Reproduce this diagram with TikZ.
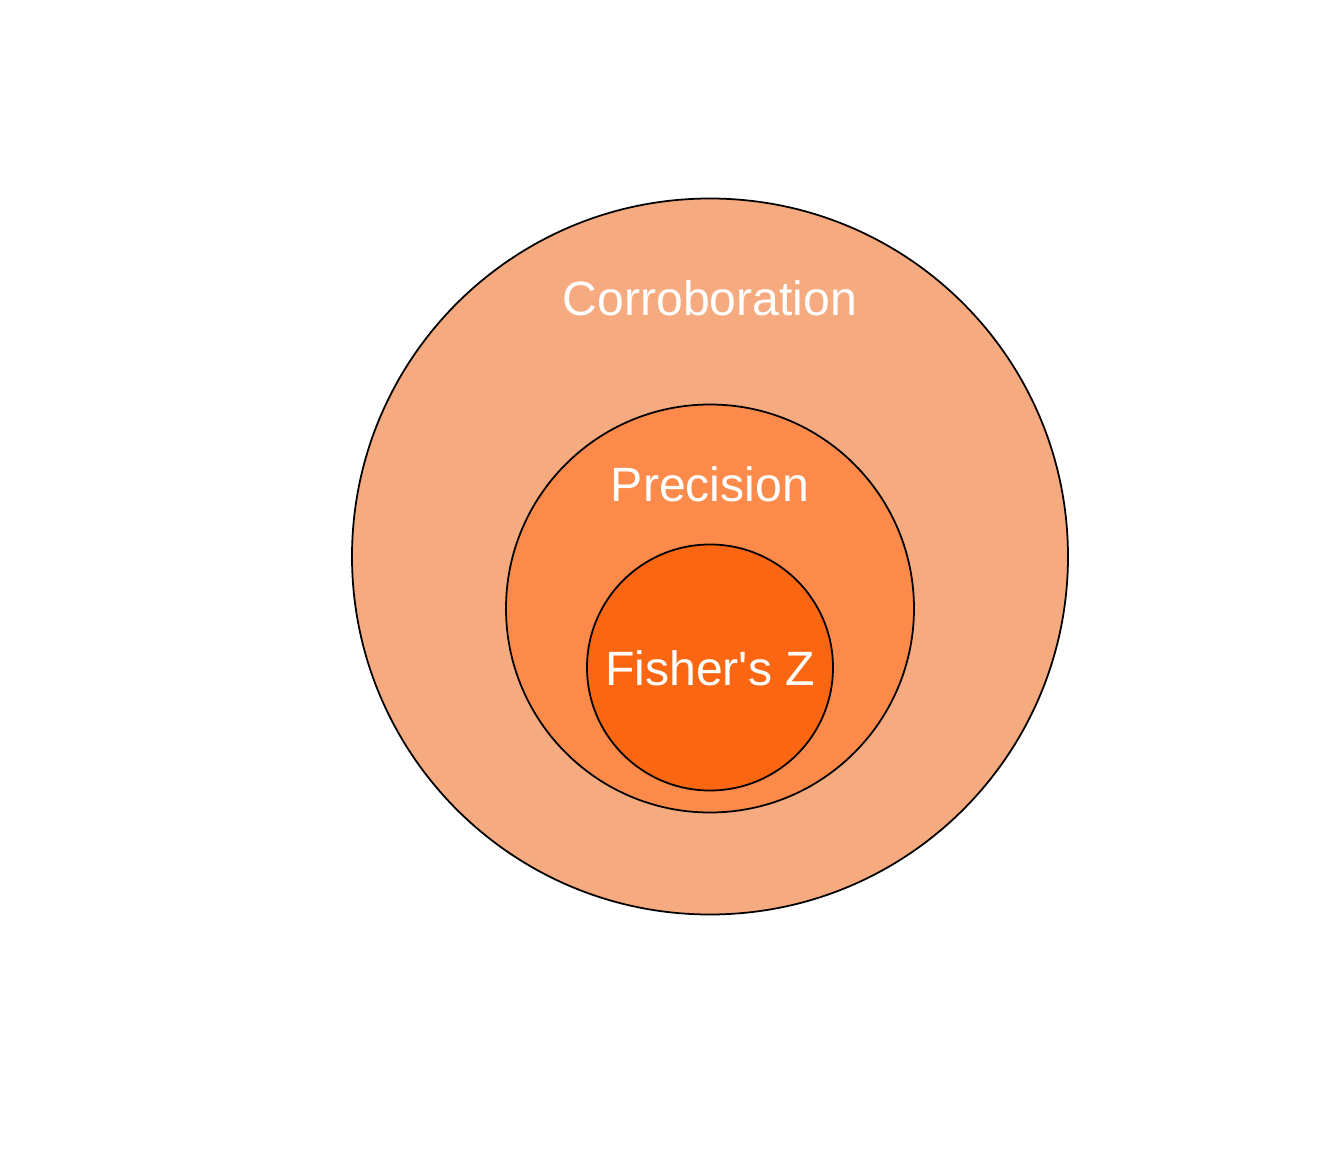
\documentclass[tikz,border=0pt]{standalone}
\usepackage{fontspec}
\setmainfont{Liberation Sans}
\usepackage{xcolor}
\usepackage{tikz}
\usetikzlibrary{positioning}
\definecolor{corrob}{RGB}{246,170,127}
\definecolor{precis}{RGB}{252,138,74}
\definecolor{fisher}{RGB}{250,102,18}

\begin{document}
\begin{tikzpicture}[
  ring/.style={circle, draw=black, line width=0.5pt, inner sep=0pt},
  lbl/.style={text=white, anchor=base, inner sep=0pt, font=\fontsize{13.7}{16}\selectfont}
]
  \useasboundingbox (0,0) rectangle (13.44,-11.52);

  % nested sets
  \node[ring, fill=corrob, minimum size=7.16cm] (outer) at (7.10,-5.565) {};
  \node[ring, fill=precis, minimum size=4.08cm] (middle) at (7.10,-6.085) {};
  \node[ring, fill=fisher, minimum size=2.46cm] (inner) at (7.10,-6.675) {};

  % labels
  \node[lbl] (tcorrob) at (7.10,-3.16) {Corroboration};
  \node[lbl] (tprecis) at (7.10,-5.02) {Precision};
  \node[lbl] (tfisher) at (7.10,-6.86) {Fisher\textquotesingle s Z};
\end{tikzpicture}
\end{document}
